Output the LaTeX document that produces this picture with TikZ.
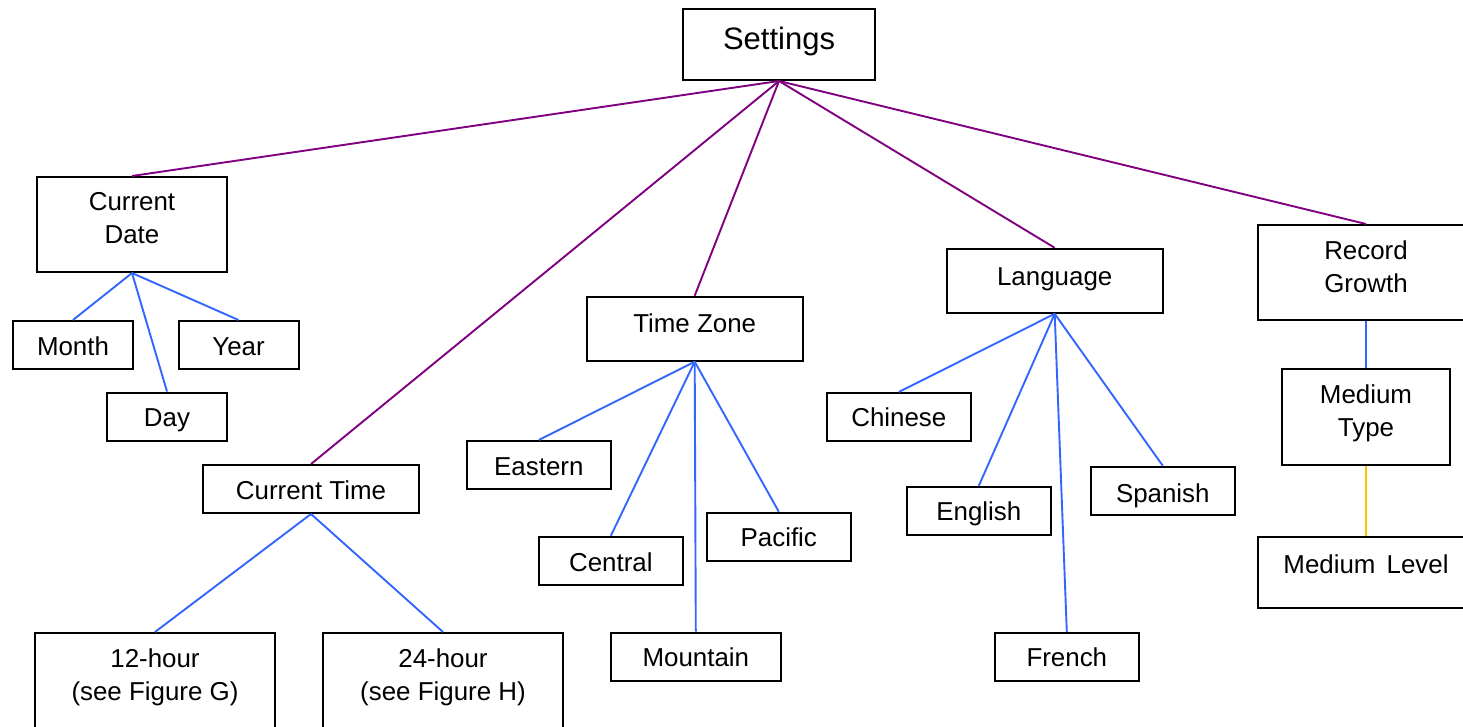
\documentclass[tikz,border=0pt]{standalone}
\usepackage{fontspec}
\setmainfont{Liberation Sans}
\definecolor{trunk}{HTML}{800080}
\definecolor{branch}{HTML}{3366FF}
\definecolor{leafline}{HTML}{FFC000}
\newcommand{\twoline}[2]{\begin{tabular}[t]{@{}c@{}}#1\\#2\end{tabular}}
\begin{document}
\begin{tikzpicture}[x=1pt,y=-1pt,
  box/.style={draw=black, line width=2pt, fill=white, inner sep=0pt, rectangle},
  lbl/.style={anchor=base, inner sep=0pt, font=\fontsize{25.9}{33}\selectfont},
  toplbl/.style={anchor=base, inner sep=0pt, font=\fontsize{31}{36}\selectfont},
  main/.style={draw=trunk, line width=1.9pt},
  sub/.style={draw=branch, line width=1.9pt},
  subsub/.style={draw=leafline, line width=1.9pt}]
\useasboundingbox (0,0) rectangle (1463,727);
\fill[white] (0,0) rectangle (1463,727);
\clip (0,0) rectangle (1463,727);

% boxes
\node[box, minimum width=192pt, minimum height=71pt] (set) at (779,44.5) {};
\node[box, minimum width=190pt, minimum height=95pt] (cd) at (132,224.5) {};
\node[box, minimum width=120pt, minimum height=48pt] (mon) at (73,345) {};
\node[box, minimum width=120pt, minimum height=48pt] (yr) at (238.5,345) {};
\node[box, minimum width=120pt, minimum height=48pt] (day) at (167,416.5) {};
\node[box, minimum width=216pt, minimum height=48pt] (ct) at (311,489) {};
\node[box, minimum width=240pt, minimum height=130pt] (h12) at (155,698) {};
\node[box, minimum width=240pt, minimum height=130pt] (h24) at (443,698) {};
\node[box, minimum width=216pt, minimum height=64pt] (tz) at (694.7,328.7) {};
\node[box, minimum width=144pt, minimum height=48pt] (east) at (538.8,465) {};
\node[box, minimum width=144pt, minimum height=48pt] (cent) at (610.8,560.8) {};
\node[box, minimum width=144pt, minimum height=48pt] (pac) at (778.8,536.7) {};
\node[box, minimum width=170pt, minimum height=48pt] (mtn) at (695.8,656.5) {};
\node[box, minimum width=216pt, minimum height=64pt] (lang) at (1054.7,280.8) {};
\node[box, minimum width=144pt, minimum height=48pt] (chi) at (898.8,417) {};
\node[box, minimum width=144pt, minimum height=48pt] (eng) at (978.8,510.8) {};
\node[box, minimum width=144pt, minimum height=48pt] (spa) at (1162.8,490.8) {};
\node[box, minimum width=144pt, minimum height=48pt] (fre) at (1066.8,656.8) {};
\node[box, minimum width=216pt, minimum height=95pt] (rg) at (1366,272.5) {};
\node[box, minimum width=168pt, minimum height=96pt] (mt) at (1366,417) {};
\node[box, minimum width=216pt, minimum height=71pt] (ml) at (1366,572.5) {};

% connectors
\foreach \c in {cd,ct,tz,lang,rg} \draw[main] (set.south) -- (\c.north);
\foreach \c in {mon,day,yr} \draw[sub] (cd.south) -- (\c.north);
\foreach \c in {h12,h24} \draw[sub] (ct.south) -- (\c.north);
\foreach \c in {east,cent,mtn,pac} \draw[sub] (tz.south) -- (\c.north);
\foreach \c in {chi,eng,fre,spa} \draw[sub] (lang.south) -- (\c.north);
\draw[sub] (rg.south) -- (mt.north);
\draw[subsub] (mt.south) -- (ml.north);

% labels
\node[toplbl] (set-t) at (779,50) {Settings};
\node[lbl] (cd-t) at (132,210.7) {\twoline{Current}{Date}};
\node[lbl] (mon-t) at (73,355) {Month};
\node[lbl] (yr-t) at (238.5,355) {Year};
\node[lbl] (day-t) at (167,426.5) {Day};
\node[lbl] (ct-t) at (311,499) {Current Time};
\node[lbl] (h12-t) at (155,667.7) {\twoline{12-hour}{(see Figure G)}};
\node[lbl] (h24-t) at (443,667.7) {\twoline{24-hour}{(see Figure H)}};
\node[lbl] (tz-t) at (694.7,332.7) {Time Zone};
\node[lbl] (east-t) at (538.8,475) {Eastern};
\node[lbl] (cent-t) at (610.8,571.5) {Central};
\node[lbl] (pac-t) at (778.8,546.7) {Pacific};
\node[lbl] (mtn-t) at (695.8,666.7) {Mountain};
\node[lbl] (lang-t) at (1054.7,285) {Language};
\node[lbl] (chi-t) at (898.8,426.7) {Chinese};
\node[lbl] (eng-t) at (978.8,520) {English};
\node[lbl] (spa-t) at (1162.8,502.7) {Spanish};
\node[lbl] (fre-t) at (1066.8,666.7) {French};
\node[lbl] (rg-t) at (1366,259) {\twoline{Record}{Growth}};
\node[lbl] (mt-t) at (1366,403) {\twoline{Medium}{Type}};
\node[lbl] (ml-t) at (1366,573) {Medium\hspace{0.15em} Level};
\end{tikzpicture}
\end{document}
